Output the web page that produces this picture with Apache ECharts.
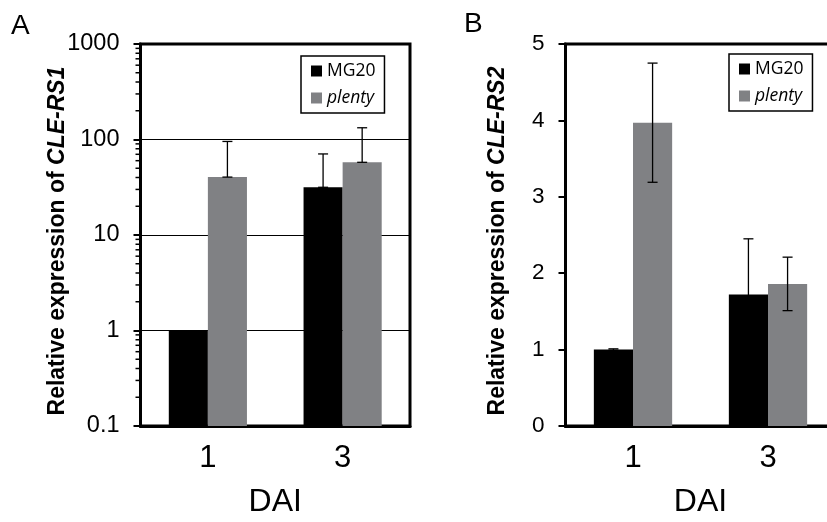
<!DOCTYPE html>
<html>
<head>
<meta charset="utf-8">
<script src="https://cdn.jsdelivr.net/npm/echarts@6/dist/echarts.min.js"></script>
<style>
html,body{margin:0;padding:0;background:#fff;}
#chart{width:827px;height:522px;}
</style>
</head>
<body>
<div id="chart"></div>
<script>
// ---- data ----
const categories = ['1', '3'];
const seriesNames = ['MG20', 'plenty'];
// Panel A (CLE-RS1, log scale)
const mg20A = [1.0, 31.6];
const plentyA = [40.4, 57.7];
const mg20A_sd = [0, 39];
const plentyA_sd = [55, 75];
const yTicksA = [0.1, 1, 10, 100, 1000];
const minorTicksA = [0.2,0.3,0.4,0.5,0.6,0.7,0.8,0.9,2,3,4,5,6,7,8,9,20,30,40,50,60,70,80,90,200,300,400,500,600,700,800,900];
// Panel B (CLE-RS2, linear)
const mg20B = [1.0, 1.72];
const plentyB = [3.97, 1.86];
const mg20B_sd = [0.01, 0.73];
const plentyB_sd = [0.78, 0.35];
const yTicksB = [0, 1, 2, 3, 4, 5];

const BLACK = '#000000';
const GREY = '#808184';
const GAP = 0.42;
const FONT = '"Liberation Sans", Arial, sans-serif';

function errData(vals, sds, side, upOnly) {
  return vals.map((v, i) => [i, v, upOnly ? v : v - sds[i], v + sds[i], side]);
}

function barGeom(api, ci, v) {
  const p = api.coord([ci, v]);
  const band = api.coord([1, v])[0] - api.coord([0, v])[0];
  const barW = band * (1 - GAP) / 2;
  return { p: p, barW: barW };
}

function errRender(params, api) {
  const ci = api.value(0), v = api.value(1), lo = api.value(2), hi = api.value(3), side = api.value(4);
  const g = barGeom(api, ci, v);
  const x = g.p[0] + side * g.barW / 2;
  const yLo = api.coord([ci, lo])[1];
  const yHi = api.coord([ci, hi])[1];
  const cap = 5;
  const st = { stroke: '#000', lineWidth: 1.3 };
  return {
    type: 'group',
    children: [
      { type: 'line', shape: { x1: x, y1: yLo, x2: x, y2: yHi }, style: st },
      { type: 'line', shape: { x1: x - cap, y1: yHi, x2: x + cap, y2: yHi }, style: st },
      { type: 'line', shape: { x1: x - cap, y1: yLo, x2: x + cap, y2: yLo }, style: st }
    ]
  };
}

// bars on the log axis drawn from the axis minimum (0.1) up to the value
function logBarRender(params, api) {
  const ci = api.value(0), v = api.value(1), side = api.value(2);
  const g = barGeom(api, ci, v);
  const yBase = api.coord([ci, yTicksA[0]])[1];
  const xLeft = side < 0 ? g.p[0] - g.barW : g.p[0];
  return {
    type: 'rect',
    shape: { x: xLeft, y: g.p[1], width: g.barW, height: yBase - g.p[1] },
    style: { fill: api.visual('color') }
  };
}

function minorRender(params, api) {
  const v = api.value(0);
  const y = api.coord([0, v])[1];
  const x = params.coordSys.x;
  return { type: 'line', shape: { x1: x - 5, y1: y, x2: x, y2: y }, style: { stroke: '#000', lineWidth: 1.5 } };
}

function fmtNum(v) { return String(Number(Number(v).toPrecision(6))); }

const chart = echarts.init(document.getElementById('chart'), null, { renderer: 'canvas' });

const yNameRich = {
  b: { fontFamily: FONT, fontWeight: 'bold', fontSize: 23, color: '#000' },
  bi: { fontFamily: FONT, fontWeight: 'bold', fontStyle: 'italic', fontSize: 23, color: '#000' }
};

function legendCfg(left, top) {
  return {
    orient: 'vertical', left: left, top: top,
    icon: 'rect', itemWidth: 11, itemHeight: 11, itemGap: 9,
    padding: [6, 9, 6, 10],
    borderColor: '#000', borderWidth: 1.5, backgroundColor: '#fff',
    textStyle: { fontFamily: '"Open Sans", sans-serif', fontSize: 17.5, color: '#000' },
    data: [
      { name: 'MG20' },
      { name: 'plenty', textStyle: { fontStyle: 'italic' } }
    ],
    selectedMode: false
  };
}

function xAxisCfg(gridIndex) {
  return {
    type: 'category', gridIndex: gridIndex, data: categories,
    axisLine: { lineStyle: { color: '#000', width: 3 } },
    axisTick: { show: false },
    axisLabel: { color: '#000', fontFamily: FONT, fontSize: 31, margin: 17 },
    name: 'DAI', nameLocation: 'middle', nameGap: 60, nameMoveOverlap: false,
    nameTextStyle: { color: '#000', fontFamily: FONT, fontSize: 32 }
  };
}

const option = {
  animation: false,
  backgroundColor: '#fff',
  title: [
    { text: 'A', left: 6, top: 7, textStyle: { fontFamily: FONT, fontWeight: 'normal', fontSize: 28, color: '#000' } },
    { text: 'B', left: 459, top: 5, textStyle: { fontFamily: FONT, fontWeight: 'normal', fontSize: 28, color: '#000' } }
  ],
  legend: [legendCfg(301, 56), legendCfg(729, 54)],
  grid: [
    { left: 140.5, top: 44, width: 269.5, height: 382, show: true, borderColor: '#000', borderWidth: 3, backgroundColor: 'transparent', containLabel: false, outerBoundsMode: 'none' },
    { left: 565.5, top: 44, width: 270, height: 382, show: true, borderColor: '#000', borderWidth: 3, backgroundColor: 'transparent', containLabel: false, outerBoundsMode: 'none' }
  ],
  xAxis: [xAxisCfg(0), xAxisCfg(1)],
  yAxis: [
    {
      type: 'log', gridIndex: 0, logBase: 10, min: yTicksA[0], max: yTicksA[yTicksA.length - 1],
      axisLine: { show: true, lineStyle: { color: '#000', width: 3 } },
      axisTick: { show: true, length: 7, lineStyle: { color: '#000', width: 2 } },
      axisLabel: { color: '#000', fontFamily: FONT, fontSize: 23.5, margin: 21, formatter: fmtNum },
      splitLine: { show: true, lineStyle: { color: '#000', width: 1.2 } },
      name: '{b|Relative expression of }{bi|CLE-RS1}', nameLocation: 'middle', nameGap: 71, nameRotate: 90,
      nameMoveOverlap: false,
      nameTextStyle: { rich: yNameRich, padding: [0, 12, 0, 0] }
    },
    {
      type: 'value', gridIndex: 1, min: yTicksB[0], max: yTicksB[yTicksB.length - 1], interval: 1,
      axisLine: { show: true, lineStyle: { color: '#000', width: 3 } },
      axisTick: { show: true, length: 7, lineStyle: { color: '#000', width: 2 } },
      axisLabel: { color: '#000', fontFamily: FONT, fontSize: 22.5, margin: 21, formatter: fmtNum },
      splitLine: { show: false },
      name: '{b|Relative expression of }{bi|CLE-RS2}', nameLocation: 'middle', nameGap: 56, nameRotate: 90,
      nameMoveOverlap: false,
      nameTextStyle: { rich: yNameRich, padding: [0, 12, 0, 0] }
    }
  ],
  series: [
    { name: 'MG20', type: 'custom', xAxisIndex: 0, yAxisIndex: 0, renderItem: logBarRender, itemStyle: { color: BLACK },
      data: mg20A.map((v, i) => [i, v, -1]), encode: { x: 0, y: 1 }, z: 2, silent: true },
    { name: 'plenty', type: 'custom', xAxisIndex: 0, yAxisIndex: 0, renderItem: logBarRender, itemStyle: { color: GREY },
      data: plentyA.map((v, i) => [i, v, 1]), encode: { x: 0, y: 1 }, z: 2, silent: true },
    { name: 'MG20', type: 'bar', xAxisIndex: 1, yAxisIndex: 1, data: mg20B, itemStyle: { color: BLACK }, barGap: '0%', barCategoryGap: '42%' },
    { name: 'plenty', type: 'bar', xAxisIndex: 1, yAxisIndex: 1, data: plentyB, itemStyle: { color: GREY }, barGap: '0%', barCategoryGap: '42%' },
    { name: 'errA1', type: 'custom', xAxisIndex: 0, yAxisIndex: 0, renderItem: errRender, data: errData(mg20A, mg20A_sd, -1, true).filter((d, i) => mg20A_sd[i] > 0), encode: { x: 0, y: 1 }, z: 5, silent: true },
    { name: 'errA2', type: 'custom', xAxisIndex: 0, yAxisIndex: 0, renderItem: errRender, data: errData(plentyA, plentyA_sd, 1, true), encode: { x: 0, y: 1 }, z: 5, silent: true },
    { name: 'errB1', type: 'custom', xAxisIndex: 1, yAxisIndex: 1, renderItem: errRender, data: errData(mg20B, mg20B_sd, -1, false), encode: { x: 0, y: 1 }, z: 5, silent: true },
    { name: 'errB2', type: 'custom', xAxisIndex: 1, yAxisIndex: 1, renderItem: errRender, data: errData(plentyB, plentyB_sd, 1, false), encode: { x: 0, y: 1 }, z: 5, silent: true },
    { name: 'minorA', type: 'custom', xAxisIndex: 0, yAxisIndex: 0, renderItem: minorRender, clip: false,
      data: minorTicksA.map(v => [v]), encode: { y: 0 }, z: 6, silent: true }
  ]
};
chart.setOption(option);
</script>
</body>
</html>
